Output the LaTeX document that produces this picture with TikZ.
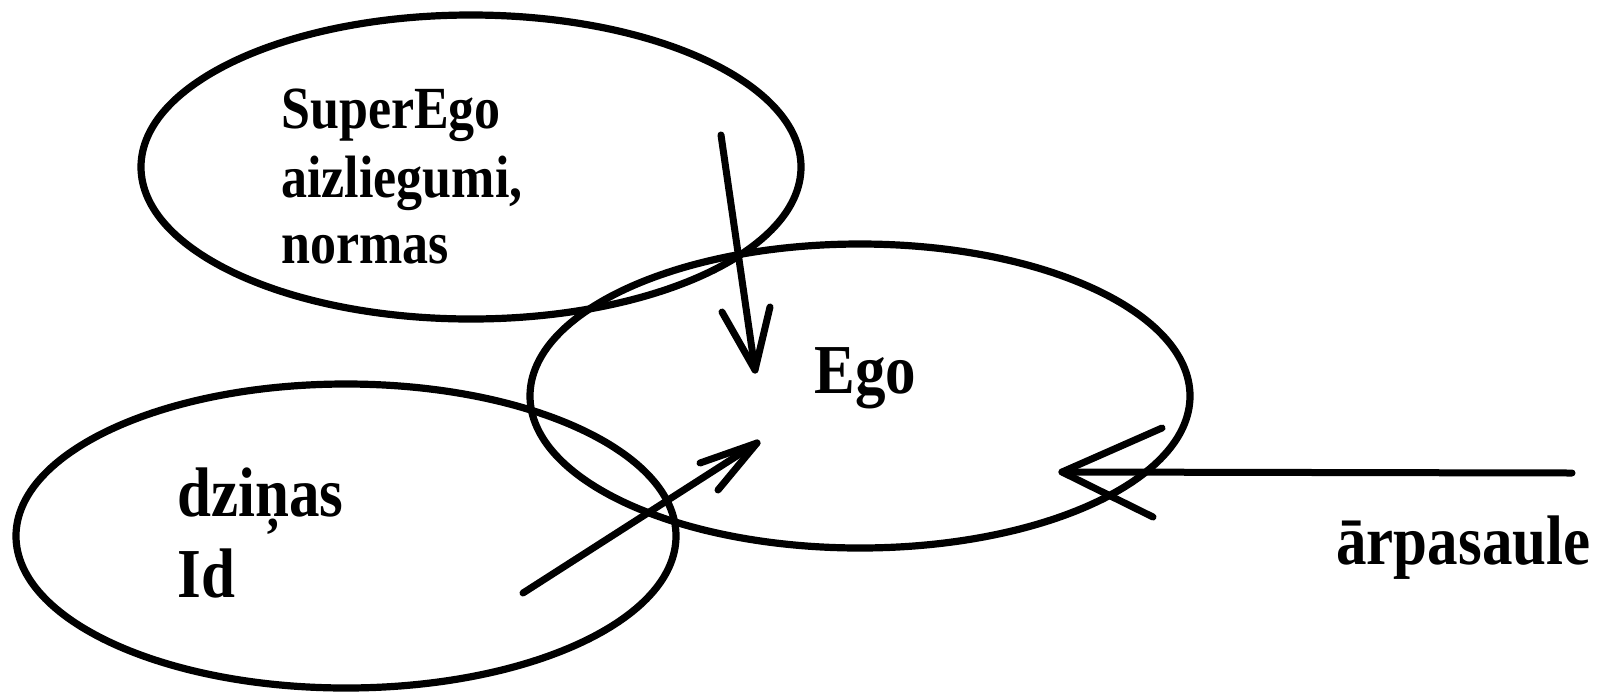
\documentclass[tikz,border=0pt]{standalone}
\usepackage{fontspec}
\setmainfont{Liberation Serif}
\usetikzlibrary{shapes.geometric}
\newcommand\vstretch[1]{\scalebox{1}[1.15]{#1}}
\begin{document}
\begin{tikzpicture}[x=0.5pt,y=-0.5pt,
  ell/.style={draw, ellipse, line width=3.6pt, minimum width=330pt, minimum height=152pt, inner sep=0pt},
  lblsmall/.style={anchor=base west, inner sep=0pt, font=\fontsize{26pt}{26pt}\selectfont\bfseries},
  lblbig/.style={anchor=base west, inner sep=0pt, font=\fontsize{30.5pt}{30.5pt}\selectfont\bfseries},
  arr/.style={line width=3.5pt, line cap=round, line join=round}]
\useasboundingbox (0,0) rectangle (1602,692);
% ellipses
\node[ell] (superego) at (471,167) {};
\node[ell] (ego) at (860,396) {};
\node[ell] (id) at (346,536) {};
% texts
\node[lblsmall] (t1) at (281,128) {\vstretch{SuperEgo}};
\node[lblsmall] (t2) at (281,197) {\vstretch{aizliegumi,}};
\node[lblsmall] (t3) at (281,263) {\vstretch{normas}};
\node[lblbig] (tego) at (814,393) {\vstretch{Ego}};
\node[lblbig] (t4) at (177,516) {\vstretch{dziņas}};
\node[lblbig] (t5) at (177,597) {\vstretch{Id}};
\node[lblbig] (tout) at (1336,564) {\vstretch{ārpasaule}};
% arrow from SuperEgo
\coordinate (s1) at (721,135);
\coordinate (s2) at (755,370);
\coordinate (s2a) at (722,312);
\coordinate (s2b) at (770,307);
\draw[arr] (s1) -- (s2);
\draw[arr] (s2a) -- (s2) -- (s2b);
% arrow from Id
\coordinate (i1) at (523,593);
\coordinate (i2) at (757,443);
\coordinate (i2a) at (700,463);
\coordinate (i2b) at (718,490);
\draw[arr] (i1) -- (i2);
\draw[arr] (i2a) -- (i2) -- (i2b);
% arrow from outside world
\coordinate (o1) at (1572,473);
\coordinate (o2) at (1062,472);
\coordinate (o2a) at (1162,428);
\coordinate (o2b) at (1153,517);
\draw[arr] (o1) -- (o2);
\draw[arr] (o2a) -- (o2) -- (o2b);
\end{tikzpicture}
\end{document}
